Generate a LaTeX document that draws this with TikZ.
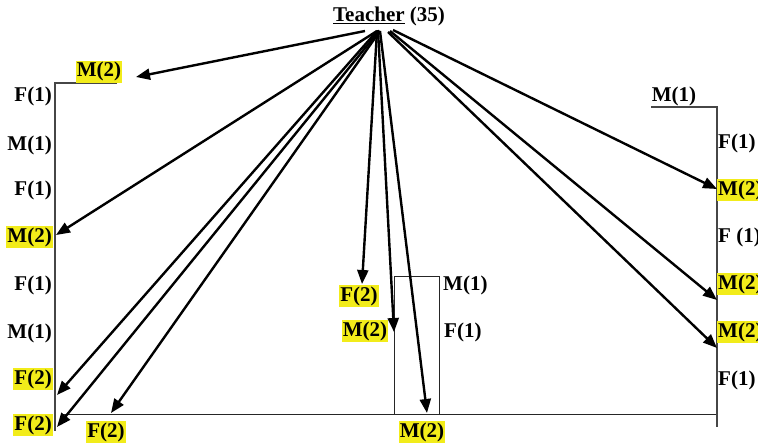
\documentclass[tikz,border=0pt]{standalone}
\usepackage{fontspec}
\setmainfont{Liberation Serif}
\usetikzlibrary{arrows.meta,calc}
\definecolor{hl}{RGB}{242,236,26}
\definecolor{wallgray}{RGB}{70,70,70}

\begin{document}
\begin{tikzpicture}[x=1pt,y=-1pt,
  lbl/.style={font=\fontsize{21}{23}\selectfont\bfseries, inner xsep=1pt, inner ysep=1pt,
              text height=15pt, text depth=5pt},
  hlbl/.style={lbl, fill=hl},
  wall/.style={draw=wallgray, line width=1.4pt},
  edge/.style={draw=black!85, line width=1pt},
  ptr/.style={draw=black, line width=2.4pt, -{Triangle[length=14pt,width=11pt]}},
]
\useasboundingbox (0,0) rectangle (758,444);

% classroom outline
\draw[wall] (117,83) -- (55,83) -- (55,431);
\draw[edge] (62,414) -- (717,414);
\draw[wall] (651,107) -- (717,107) -- (717,427);
\draw[edge] (394,414) -- (394,276) -- (439,276) -- (439,414);

% teacher
\node[lbl] (teacher) at (389,17) {\underline{Teacher} (35)};
\coordinate (t) at (378,30);

% left wall seats
\node[hlbl] (lm2top) at (99,72) {M(2)};
\node[lbl, anchor=east] (lf1a) at (53,97) {F(1)};
\node[lbl, anchor=east] (lm1a) at (53,145) {M(1)};
\node[lbl, anchor=east] (lf1b) at (53,190) {F(1)};
\node[hlbl, anchor=east] (lm2) at (53,237) {M(2)};
\node[lbl, anchor=east] (lf1c) at (53,285) {F(1)};
\node[lbl, anchor=east] (lm1b) at (53,333) {M(1)};
\node[hlbl, anchor=east] (lf2a) at (53,379) {F(2)};
\node[hlbl, anchor=east] (lf2b) at (53,425) {F(2)};
\node[hlbl] (bf2) at (106,432) {F(2)};

% middle seats
\node[hlbl] (mf2) at (359,296) {F(2)};
\node[hlbl] (mm2) at (365,331) {M(2)};
\node[lbl, anchor=west] (mm1) at (442,285) {M(1)};
\node[lbl, anchor=west] (mf1) at (443,332) {F(1)};
\node[hlbl] (bm2) at (422,432) {M(2)};

% right wall seats
\node[lbl] (rm1) at (674,96) {M(1)};
\node[lbl, anchor=west] (rf1a) at (717,143) {F(1)};
\node[hlbl, anchor=west] (rm2a) at (717,190) {M(2)};
\node[lbl, anchor=west] (rf1b) at (717,237) {F (1)};
\node[hlbl, anchor=west] (rm2b) at (717,284) {M(2)};
\node[hlbl, anchor=west] (rm2c) at (717,332) {M(2)};
\node[lbl, anchor=west] (rf1c) at (717,380) {F(1)};

% arrow targets
\coordinate (p1) at (136,77);
\coordinate (p2) at (56,235);
\coordinate (p3) at (57,395);
\coordinate (p4) at (57,427);
\coordinate (p5) at (111,413);
\coordinate (p6) at (362,284);
\coordinate (p7) at (394,332);
\coordinate (p8) at (427,413);
\coordinate (p9) at (717,189);
\coordinate (p10) at (717,300);
\coordinate (p11) at (717,348);

% teacher-student interactions
\draw[ptr] ($(t)+(-13,1)$) -- (p1);
\draw[ptr] ($(t)+(-1,1)$) -- (p2);
\draw[ptr] ($(t)+(-1,1)$) -- (p3);
\draw[ptr] ($(t)+(1,1)$) -- (p4);
\draw[ptr] ($(t)+(2,1)$) -- (p5);
\draw[ptr] ($(t)+(-1,1)$) -- (p6);
\draw[ptr] (t) -- (p7);
\draw[ptr] ($(t)+(2,1)$) -- (p8);
\draw[ptr] ($(t)+(15,0)$) -- (p9);
\draw[ptr] ($(t)+(12,1)$) -- (p10);
\draw[ptr] ($(t)+(10,2)$) -- (p11);
\end{tikzpicture}
\end{document}
